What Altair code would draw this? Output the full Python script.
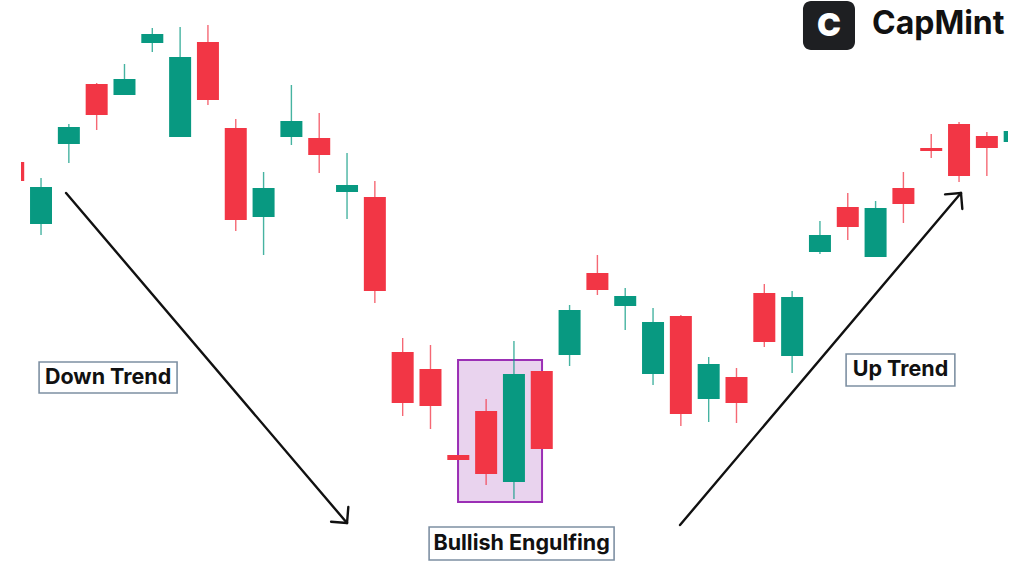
import altair as alt
import pandas as pd
import numpy as np

# ---------------- data (candle index, prices) ----------------
idx   = list(range(37))
open_ = [414, 352, 432, 492, 481, 533, 439, 534, 448, 359, 439, 438, 384, 379, 224, 207, 121, 165, 94, 205,
         221, 303, 270, 202, 260, 177, 199, 283, 220, 324, 369, 319, 388, 428, 452, 440, 434]
high  = [414, 398, 452, 493, 512, 548, 549, 551, 457, 404, 491, 463, 423, 395, 238, 231, 121, 177, 235, 205,
         271, 321, 288, 268, 261, 219, 208, 292, 285, 355, 383, 375, 404, 442, 454, 444, 445]
low   = [395, 341, 413, 446, 481, 524, 439, 471, 345, 321, 431, 403, 357, 273, 160, 147, 116, 91, 77, 127,
         210, 281, 246, 191, 150, 154, 153, 229, 203, 322, 336, 319, 353, 418, 394, 400, 434]
close = [395, 389, 449, 461, 497, 542, 519, 476, 356, 388, 455, 421, 391, 285, 173, 170, 116, 102, 202, 127,
         266, 286, 280, 254, 162, 212, 173, 234, 279, 341, 349, 368, 372, 425, 400, 428, 445]

# annotation anchors in (candle index, price) units
arrow_names = ["down", "up"]
arrow_x0 = [1.90, 23.97]
arrow_y0 = [383, 51]
arrow_x1 = [12.00, 34.07]
arrow_y1 = [53, 383]

label_text = ["Down Trend", "Bullish Engulfing", "Up Trend"]
label_x0 = [0.93, 14.95, 29.94]
label_x1 = [5.89, 21.60, 33.85]
label_y0 = [183, 16, 190]
label_y1 = [214, 49, 222]

pattern_x = [15.99, 19.01]
pattern_y = [74, 216]

logo_x = [28.39, 30.26]
logo_y = [526, 575]
brand_x = 30.87
brand_y = 552

GREEN = "#089981"
RED = "#F23645"

# ---------------- layout ----------------
X_DOM = [0.28, 35.76]
Y_DOM = [0, 576]
W, H = 987, 576
PX_PER_X = W / (X_DOM[1] - X_DOM[0])

xs = alt.Scale(domain=X_DOM, nice=False, zero=False, padding=0)
ys = alt.Scale(domain=Y_DOM, nice=False, zero=False, padding=0)

candles = pd.DataFrame({"i": idx, "open": open_, "high": high, "low": low, "close": close})
candles["dir"] = np.where(candles["close"] > candles["open"], "up", "down")
col = alt.Color("dir:N", scale=alt.Scale(domain=["up", "down"], range=[GREEN, RED]), legend=None)

wicks = alt.Chart(candles).mark_rule(strokeWidth=1.4, clip=True, opacity=0.75).encode(
    x=alt.X("i:Q", scale=xs, axis=None),
    y=alt.Y("low:Q", scale=ys, axis=None),
    y2="high:Q",
    color=col,
)
bodies = alt.Chart(candles).mark_bar(size=22, clip=True).encode(
    x=alt.X("i:Q", scale=xs, axis=None),
    y=alt.Y("open:Q", scale=ys, axis=None),
    y2="close:Q",
    color=col,
)

# pattern highlight box
pat = pd.DataFrame({"x0": [pattern_x[0]], "x1": [pattern_x[1]], "y0": [pattern_y[0]], "y1": [pattern_y[1]]})
pattern_box = alt.Chart(pat).mark_rect(fill="#E9D3EE", stroke="#9B2FB5", strokeWidth=2).encode(
    x=alt.X("x0:Q", scale=xs, axis=None), x2="x1:Q",
    y=alt.Y("y0:Q", scale=ys, axis=None), y2="y1:Q",
)

# arrows (shaft + open chevron head)
segs = []
for n, xa, ya, xb, yb in zip(arrow_names, arrow_x0, arrow_y0, arrow_x1, arrow_y1):
    segs.append({"x0": xa, "y0": ya, "x1": xb, "y1": yb})
    dx, dy = (xa - xb) * PX_PER_X, (ya - yb)
    L = np.hypot(dx, dy)
    ux, uy = dx / L, dy / L
    for ang in (np.pi / 4, -np.pi / 4):
        rx = ux * np.cos(ang) - uy * np.sin(ang)
        ry = ux * np.sin(ang) + uy * np.cos(ang)
        segs.append({"x0": xb, "y0": yb, "x1": xb + rx * 16 / PX_PER_X, "y1": yb + ry * 16})
arrows = alt.Chart(pd.DataFrame(segs)).mark_rule(color="#111111", strokeWidth=2.4, strokeCap="round").encode(
    x=alt.X("x0:Q", scale=xs, axis=None), x2="x1:Q",
    y=alt.Y("y0:Q", scale=ys, axis=None), y2="y1:Q",
)

# labels
lab = pd.DataFrame({"t": label_text, "x0": label_x0, "x1": label_x1, "y0": label_y0, "y1": label_y1})
lab["xm"] = (lab["x0"] + lab["x1"]) / 2
lab["ym"] = (lab["y0"] + lab["y1"]) / 2
label_boxes = alt.Chart(lab).mark_rect(fill="white", stroke="#7E90A3", strokeWidth=1.6).encode(
    x=alt.X("x0:Q", scale=xs, axis=None), x2="x1:Q",
    y=alt.Y("y0:Q", scale=ys, axis=None), y2="y1:Q",
)
label_texts = alt.Chart(lab).mark_text(font="Inter", fontSize=21.5, fontWeight="bold", color="#111111",
                                       align="center", baseline="middle").encode(
    x=alt.X("xm:Q", scale=xs, axis=None),
    y=alt.Y("ym:Q", scale=ys, axis=None),
    text="t:N",
)

# logo
lg = pd.DataFrame({"x0": [logo_x[0]], "x1": [logo_x[1]], "y0": [logo_y[0]], "y1": [logo_y[1]],
                   "xm": [(logo_x[0] + logo_x[1]) / 2], "ym": [(logo_y[0] + logo_y[1]) / 2],
                   "c": ["C"], "bx": [brand_x], "by": [brand_y], "brand": ["CapMint"]})
logo_box = alt.Chart(lg).mark_rect(fill="#1E1F22", cornerRadius=8).encode(
    x=alt.X("x0:Q", scale=xs, axis=None), x2="x1:Q",
    y=alt.Y("y0:Q", scale=ys, axis=None), y2="y1:Q",
)
logo_c = alt.Chart(lg).mark_text(font="Inter", fontSize=32, fontWeight=900, color="white",
                                 align="center", baseline="middle").encode(
    x=alt.X("xm:Q", scale=xs, axis=None), y=alt.Y("ym:Q", scale=ys, axis=None), text="c:N",
)
brand = alt.Chart(lg).mark_text(font="Inter", fontSize=32, fontWeight="bold", color="#111111",
                                align="left", baseline="middle").encode(
    x=alt.X("bx:Q", scale=xs, axis=None), y=alt.Y("by:Q", scale=ys, axis=None), text="brand:N",
)

chart = alt.layer(
    pattern_box, wicks, bodies, arrows, label_boxes, label_texts, logo_box, logo_c, brand
).properties(
    width=W, height=H, autosize="none",
    padding={"left": 21, "right": 16, "top": 0, "bottom": 0},
    background="white",
).configure_view(stroke=None)

chart.save("out.html", embed_options={"renderer": "svg", "actions": False})
